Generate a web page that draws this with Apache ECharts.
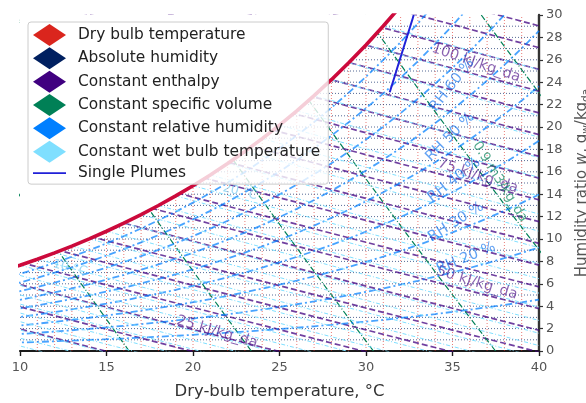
<!DOCTYPE html>
<html>
<head>
<meta charset="utf-8">
<script src="https://cdn.jsdelivr.net/npm/echarts@6/dist/echarts.min.js"></script>
<style>
html, body { margin: 0; padding: 0; background: #fff; }
#chart { width: 586px; height: 403px; }
</style>
</head>
<body>
<div id="chart"></div>
<script>
// Saturation humidity ratio (g water / kg dry air) at 101.325 kPa, dry-bulb 0..40 °C
const satTemps = [0,1,2,3,4,5,6,7,8,9,10,11,12,13,14,15,16,17,18,19,20,
                  21,22,23,24,25,26,27,28,29,30,31,32,33,34,35,36,37,38,39,40];
const satHumidity = [3.789,4.076,4.381,4.707,5.054,5.424,5.818,6.237,6.683,7.157,
                     7.661,8.197,8.766,9.370,10.012,10.692,11.413,12.178,12.989,13.848,
                     14.758,15.721,16.741,17.821,18.963,20.170,21.448,22.798,24.226,25.735,
                     27.329,29.014,30.793,32.674,34.660,36.756,38.971,41.309,43.778,46.386,49.141];

// Families of constant-property lines
const dryBulbLines = [11,12,13,14,15,16,17,18,19,20,21,22,23,24,25,26,27,28,29,30,
                      31,32,33,34,35,36,37,38,39];
const humidityLines = [1,2,3,4,5,6,7,8,9,10,11,12,13,14,15,16,17,18,19,20,
                       21,22,23,24,25,26,27,28,29];
const enthalpyLevels = [15,20,25,30,35,40,45,50,55,60,65,70,75,80,85,90,95,100,105,110,115];
const volumeLevels = [0.82,0.84,0.86,0.88,0.90,0.92];
const rhLevels = [10,20,30,40,50,60,70,80,90];
const wetBulbLevels = [0,1,2,3,4,5,6,7,8,9,10,11,12,13,14,15,16,17,18,19,20,
                       21,22,23,24,25,26,27,28,29,30,31];

// Plume path (dry-bulb °C, humidity g/kg)
const plumeTemps = [31.37, 32.76];
const plumeHumidity = [23.1, 30.0];

// Axis ticks
const xTickValues = [10,15,20,25,30,35,40];
const yTickValues = [0,2,4,6,8,10,12,14,16,18,20,22,24,26,28,30];

// Labelled levels
const enthalpyLabelValues = [25, 50, 75, 100];
const rhLabelValues = [20, 30, 40, 50, 60];
const volumeLabelValues = [0.9];
const wetBulbLabelValues = [10, 20];

// Label anchors: [dry-bulb, humidity, rotation]
const enthalpyLabelLayout = [[21.39,1.70,-16],[36.42,6.07,-17],[36.47,15.63,-18],[36.36,25.71,-19]];
const rhLabelLayout = [[35.78,8.30,22],[35.20,11.52,32],[35.09,15.27,38],[34.86,19.11,45],[34.97,23.75,52]];
const volumeLabelLayout = [[37.75,15.09,-58]];
const wetBulbLabelLayout = [[12.89,7.41,-14],[22.72,14.20,-14]];

const P = 101.325;
const wsAt = t => satHumidity[satTemps.indexOf(t)];
const pwsAt = t => { const ws = wsAt(t) / 1000; return P * ws / (0.621945 + ws); };

const COL = {
  dry: '#da251d', abs: '#002060', h: '#400080', v: '#008056',
  rh: '#007fff', wb: '#7fdfff', plume: '#2020d8', sat: '#cc0a3c'
};
const NAMES = {
  dry: 'Dry bulb temperature', abs: 'Absolute humidity', h: 'Constant enthalpy',
  v: 'Constant specific volume', rh: 'Constant relative humidity',
  wb: 'Constant wet bulb temperature', plume: 'Single Plumes'
};

const series = [];
function family(key, lineStyle, lines) {
  lines.forEach(pts => series.push({
    type: 'line', name: NAMES[key], color: COL[key], data: pts,
    symbol: 'none', silent: true, z: 2, clip: true, lineStyle: lineStyle
  }));
}

// dry-bulb verticals
family('dry', { color: 'rgba(218,37,29,0.6)', width: 1, type: [1, 2] },
  dryBulbLines.map(t => [[t, 0], [t, 30]]));
// humidity horizontals
family('abs', { color: 'rgba(0,32,96,0.75)', width: 0.9, type: [1, 2] },
  humidityLines.map(w => [[10, w], [40, w]]));
// enthalpy
family('h', { color: 'rgba(64,0,128,0.75)', width: 1.7, type: [6, 3] },
  enthalpyLevels.map(h => satTemps.map(t => [t, 1000 * (h - 1.006 * t) / (2501 + 1.86 * t)])));
// specific volume
const volW = [0].concat(humidityLines, [30]);
family('v', { color: COL.v, width: 1.2, type: [6, 2, 1, 2] },
  volumeLevels.map(v => volW.map(w => [v * P / (0.287042 * (1 + 1.607858 * w / 1000)) - 273.15, w])));
// relative humidity
family('rh', { color: 'rgba(0,127,255,0.72)', width: 1.8, type: [7, 3, 2, 3] },
  rhLevels.map(rh => satTemps.map(t => {
    const pw = rh / 100 * pwsAt(t);
    return [t, 1000 * 0.621945 * pw / (P - pw)];
  })));
// wet bulb
family('wb', { color: COL.wb, width: 1, type: [4, 2, 1, 2] },
  wetBulbLevels.map(tw => {
    const ws = wsAt(tw) / 1000;
    const pts = [];
    for (const t of satTemps) {
      if (t < tw) continue;
      const w = ((2501 - 2.326 * tw) * ws - 1.006 * (t - tw)) / (2501 + 1.86 * t - 4.186 * tw);
      pts.push([t, 1000 * w]);
      if (w < 0) break;
    }
    return pts;
  }));

const satData = satTemps.map((t, i) => [t, satHumidity[i]]);
// white cover above the saturation curve
series.push({
  type: 'line', name: 'mask', data: satData, symbol: 'none', silent: true, z: 3,
  lineStyle: { width: 0, opacity: 0 },
  areaStyle: { color: '#ffffff', opacity: 1, origin: 'end' }
});
// saturation curve
series.push({
  type: 'line', name: 'saturation', data: satData, symbol: 'none', silent: true, z: 4,
  lineStyle: { color: COL.sat, width: 3.6 }
});
// plume
series.push({
  type: 'line', name: NAMES.plume, color: COL.plume, z: 5, symbol: 'none', silent: true,
  data: plumeTemps.map((t, i) => [t, plumeHumidity[i]]),
  lineStyle: { color: COL.plume, width: 2 }
});

// in-chart labels
const labelItems = [];
function addLabels(values, layout, fmt, style) {
  values.forEach((val, i) => {
    const [t, w, rot] = layout[i];
    labelItems.push({
      value: [t, w],
      label: Object.assign({ show: true, position: 'inside', formatter: fmt(val), rotate: rot,
        align: 'center', verticalAlign: 'middle' }, style)
    });
  });
}
addLabels(enthalpyLabelValues, enthalpyLabelLayout, v => v + ' kJ/kg_da',
  { color: 'rgba(64,0,128,0.78)', fontSize: 14.5 });
addLabels(rhLabelValues, rhLabelLayout, v => 'RH ' + v + ' %',
  { color: 'rgba(0,105,235,0.78)', fontSize: 14.5 });
addLabels(volumeLabelValues, volumeLabelLayout, v => v + ' m3/kg_da',
  { color: 'rgba(0,128,86,0.85)', fontSize: 13.5 });
addLabels(wetBulbLabelValues, wetBulbLabelLayout, v => v + ' °C',
  { color: 'rgba(110,200,240,0.85)', fontSize: 12.5 });
series.push({
  type: 'scatter', name: 'labels', data: labelItems, symbolSize: 0, z: 6, silent: true
});

const chart = echarts.init(document.getElementById('chart'), null, { renderer: 'canvas' });
chart.setOption({
  animation: false,
  textStyle: { fontFamily: 'DejaVu Sans' },
  grid: { left: 20, right: 47, top: 15, bottom: 52, containLabel: false, outerBoundsMode: 'none' },
  // white band over the strip above the plotting area
  graphic: [{
    type: 'rect', z: 3, silent: true,
    shape: { x: 0, y: 0, width: 538, height: 14.5 },
    style: { fill: '#ffffff' }
  }],
  xAxis: {
    type: 'value', min: 10, max: 40, interval: 5,
    axisLine: { show: true, onZero: false, lineStyle: { color: '#1a1a1a', width: 2.2 } },
    axisTick: { show: true, length: 5, lineStyle: { color: '#1a1a1a', width: 1.4 } },
    axisLabel: { color: '#555', fontSize: 13, margin: 10,
      formatter: v => xTickValues.includes(v) ? String(v) : '' },
    splitLine: { show: false },
    name: 'Dry-bulb temperature, °C', nameLocation: 'middle', nameGap: 32,
    nameTextStyle: { fontSize: 16.5, color: '#333' }
  },
  yAxis: {
    type: 'value', position: 'right', min: 0, max: 30, interval: 2,
    axisLine: { show: true, lineStyle: { color: '#333', width: 2.4 } },
    axisTick: { show: true, length: 4, lineStyle: { color: '#333', width: 1.2 } },
    axisLabel: { color: '#555', fontSize: 13, margin: 7,
      formatter: v => yTickValues.includes(v) ? String(v) : '' },
    splitLine: { show: false },
    name: 'Humidity ratio {i|w}, g{s|w}/kg{s|da}', nameLocation: 'middle', nameRotate: 90, nameGap: 25,
    nameTextStyle: {
      fontSize: 15, color: '#555', lineHeight: 18,
      rich: {
        i: { fontSize: 15, fontStyle: 'italic', color: '#555', lineHeight: 18 },
        s: { fontSize: 10.5, color: '#555', verticalAlign: 'bottom', lineHeight: 13 }
      }
    }
  },
  legend: {
    orient: 'vertical', left: 28, top: 22, z: 10,
    itemWidth: 33, itemHeight: 22, itemGap: 1.33,
    symbolKeepAspect: true,
    padding: [2, 8, 2, 5],
    backgroundColor: 'rgba(255,255,255,0.8)',
    borderColor: '#cccccc', borderWidth: 1, borderRadius: 3,
    textStyle: { fontSize: 15.4, color: '#222', padding: [0, 0, 0, 7] },
    selectedMode: false,
    data: [
      { name: NAMES.dry, icon: 'diamond' },
      { name: NAMES.abs, icon: 'diamond' },
      { name: NAMES.h, icon: 'diamond' },
      { name: NAMES.v, icon: 'diamond' },
      { name: NAMES.rh, icon: 'diamond' },
      { name: NAMES.wb, icon: 'diamond' },
      { name: NAMES.plume, icon: 'path://M0,0h0.01v0.01h-0.01z M0,10h40v2h-40z M0,22h0.01v-0.01h-0.01z' }
    ]
  },
  series: series
});
</script>
</body>
</html>
